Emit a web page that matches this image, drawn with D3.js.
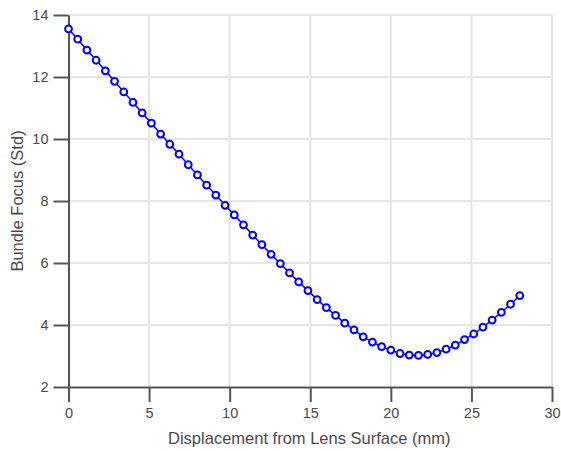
<!DOCTYPE html>
<html lang="en">
<head>
<meta charset="utf-8">
<title>Bundle Focus</title>
<style>
  body { margin: 0; background: #fff; }
  svg { display: block; font-family: "Liberation Sans", Arial, sans-serif; }
  .grid line { stroke: #e5e5e5; stroke-width: 2; }
  .axis path, .axis line { stroke: #555; stroke-width: 2; }
  .axis text { fill: #4a4a4a; font-size: 14.5px; }
  .label { fill: #4a4a4a; font-size: 16.5px; }
</style>
</head>
<body>
<svg id="chart" width="561" height="451"></svg>
<script src="https://cdn.jsdelivr.net/npm/d3@7"></script>
<script>
// displacement (mm): 50 samples from 0 to 28
var xStart = 0, xEnd = 28, nSamples = 50;
var displacement = d3.range(nSamples).map(function(i){ return xStart + i * (xEnd - xStart) / (nSamples - 1); });

// bundle focus (std)
var focus = [
  13.55, 13.22, 12.87, 12.54, 12.20, 11.86, 11.52, 11.18, 10.84, 10.51,
  10.16, 9.83, 9.51, 9.17, 8.84, 8.51, 8.19, 7.86, 7.55, 7.23,
  6.90, 6.59, 6.28, 5.98, 5.68, 5.39, 5.11, 4.82, 4.56, 4.31,
  4.06, 3.84, 3.62, 3.45, 3.30, 3.19, 3.08, 3.03, 3.02, 3.05,
  3.11, 3.22, 3.35, 3.53, 3.71, 3.93, 4.16, 4.41, 4.67, 4.95
];

var xTicks = [0, 5, 10, 15, 20, 25, 30];
var yTicks = [2, 4, 6, 8, 10, 12, 14];

var svg = d3.select('#chart'),
    margin = {left: 68.5, right: 9, top: 15, bottom: 64},
    w = +svg.attr('width') - margin.left - margin.right,
    h = +svg.attr('height') - margin.top - margin.bottom;

var g = svg.append('g').attr('transform', 'translate(' + margin.left + ',' + margin.top + ')');

var x = d3.scaleLinear().domain([0, 30]).range([0, w]);
var y = d3.scaleLinear().domain([2, 14]).range([h, 0]);

// gridlines
var grid = g.append('g').attr('class', 'grid');
grid.selectAll('.gx').data(xTicks.slice(1)).enter().append('line')
    .attr('x1', function(d){ return x(d); }).attr('x2', function(d){ return x(d); })
    .attr('y1', 0).attr('y2', h);
grid.selectAll('.gy').data(yTicks.slice(1)).enter().append('line')
    .attr('x1', 0).attr('x2', w)
    .attr('y1', function(d){ return y(d); }).attr('y2', function(d){ return y(d); });

// axes
g.append('g').attr('class', 'axis')
    .attr('transform', 'translate(0,' + h + ')')
    .call(d3.axisBottom(x).tickValues(xTicks).tickSize(15).tickSizeOuter(0).tickPadding(6));
g.append('g').attr('class', 'axis')
    .call(d3.axisLeft(y).tickValues(yTicks).tickSize(15).tickSizeOuter(0).tickPadding(5));

// data line + markers
var pts = displacement.map(function(d, i){ return [d, focus[i]]; });
g.append('path')
    .datum(pts)
    .attr('fill', 'none')
    .attr('stroke', '#0000ff')
    .attr('stroke-width', 1.5)
    .attr('d', d3.line().x(function(d){ return x(d[0]); }).y(function(d){ return y(d[1]); }));

g.selectAll('.pt').data(pts).enter().append('circle')
    .attr('class', 'pt')
    .attr('cx', function(d){ return x(d[0]); })
    .attr('cy', function(d){ return y(d[1]); })
    .attr('r', 3.4)
    .attr('fill', 'white')
    .attr('stroke', '#0000ff')
    .attr('stroke-width', 2);

// axis titles
svg.append('text').attr('class', 'label')
    .attr('text-anchor', 'middle')
    .attr('x', margin.left + w / 2 - 1).attr('y', 444)
    .text('Displacement from Lens Surface (mm)');
svg.append('text').attr('class', 'label')
    .attr('text-anchor', 'middle')
    .attr('transform', 'translate(23,' + (margin.top + h / 2) + ') rotate(-90)')
    .text('Bundle Focus (Std)');
</script>
</body>
</html>
